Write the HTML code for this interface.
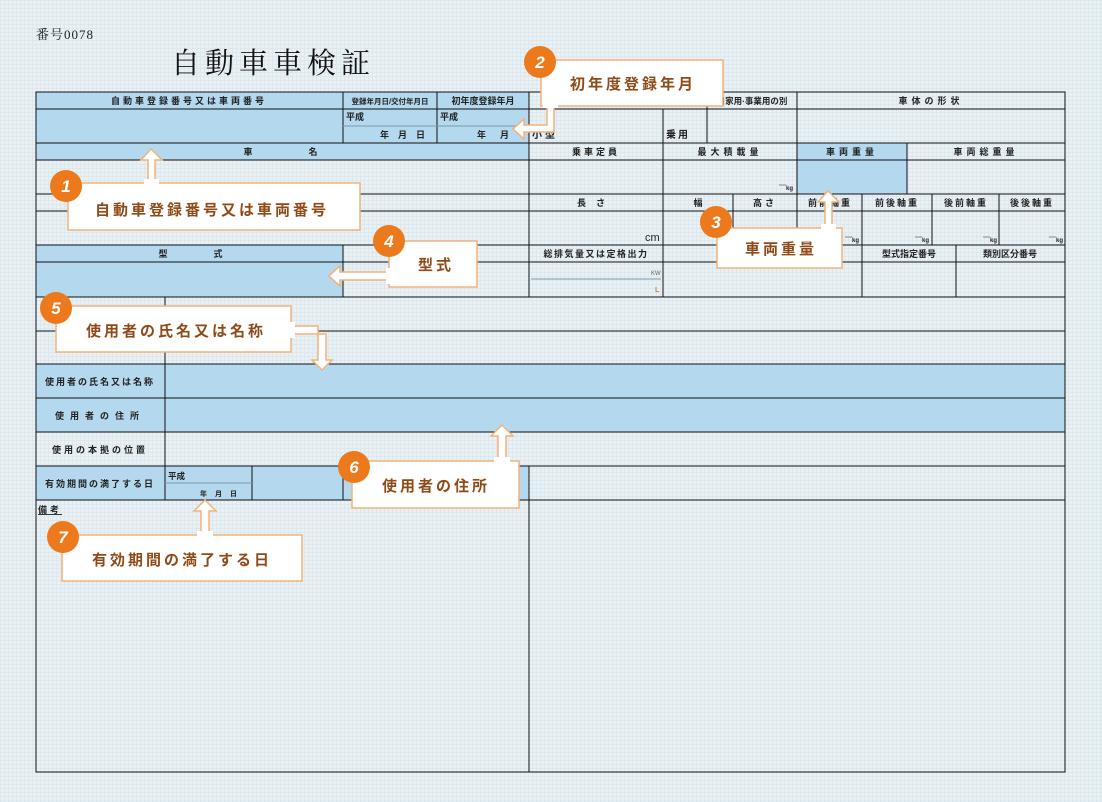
<!DOCTYPE html>
<html><head><meta charset="utf-8">
<style>
html,body{margin:0;padding:0;}
body{width:1102px;height:802px;overflow:hidden;background:#e8f0f4;}
svg{display:block;}
.t{font-family:"Liberation Sans","Noto Sans CJK JP",sans-serif;font-size:9px;font-weight:bold;fill:#222;}
.c{font-family:"Liberation Sans","Noto Sans CJK JP",sans-serif;font-size:15px;font-weight:bold;fill:#8f4a17;letter-spacing:3px;}
.n{font-family:"Liberation Sans","DejaVu Sans",sans-serif;font-size:17px;font-weight:bold;font-style:italic;fill:#fff;}
</style></head><body>
<svg width="1102" height="802" xmlns="http://www.w3.org/2000/svg">
<defs>
<pattern id="g" width="4" height="4" patternUnits="userSpaceOnUse"><rect width="4" height="4" fill="#e9f1f5"/><rect width="1" height="4" fill="#dde8ee"/><rect width="4" height="1" fill="#dde8ee"/></pattern>
</defs>
<rect width="1102" height="802" fill="url(#g)"/>
<text x="36" y="39" style="font-family:'Liberation Serif','Noto Serif CJK SC',serif;font-size:13px;fill:#222;letter-spacing:1px">番号0078</text>
<text x="171" y="73" style="font-family:'Liberation Serif','Noto Serif CJK SC',serif;font-size:29px;fill:#111;letter-spacing:5px">自動車車検証</text>

<g fill="#b4d8ed">
<rect x="36" y="92" width="493" height="68"/>
<rect x="797" y="143" width="110" height="51"/>
<rect x="36" y="245" width="307" height="52"/>
<rect x="36" y="364" width="1029" height="68"/>
<rect x="36" y="466" width="493" height="34"/>
</g>
<g stroke="#111" stroke-width="1" fill="none" shape-rendering="crispEdges">
<rect x="36" y="92" width="1029" height="680"/>
<path d="M36 109H1065M36 143H1065M36 160H1065M36 194H1065M36 211H1065M36 245H1065M36 262H1065M36 297H1065M36 331H1065M36 364H1065M36 398H1065M36 432H1065M36 466H1065M36 500H1065"/>
<path d="M343 92V143M437 92V143M529 92V297M529 466V772M707 92V143M663 109V143M797 92V143"/>
<path d="M663 143V245M797 143V245M907 143V194M733 194V245M862 194V245M932 194V245M999 194V245"/>
<path d="M343 245V297M663 245V297M862 245V297M956 245V297"/>
<path d="M165 297V500M252 466V500M343 466V500"/>
</g>
<g stroke="#7e99a8" stroke-width="1" shape-rendering="crispEdges">
<path d="M343 126H529M531 279H661M165 483H252"/>
</g>
<g class="t" text-anchor="middle">
<text x="189" y="104" letter-spacing="3">自動車登録番号又は車両番号</text>
<text x="390" y="104" style="font-size:7.5px">登録年月日/交付年月日</text>
<text x="483" y="104">初年度登録年月</text>
<text x="752" y="104" style="font-size:8.5px">自家用·事業用の別</text>
<text x="931" y="104" letter-spacing="4">車体の形状</text>
<text x="248" y="155">車</text><text x="313" y="155">名</text>
<text x="596" y="155" letter-spacing="3">乗車定員</text>
<text x="730" y="155" letter-spacing="4">最大積載量</text>
<text x="852" y="155" letter-spacing="4">車両重量</text>
<text x="986" y="155" letter-spacing="4">車両総重量</text>
<text x="596" y="206" letter-spacing="10">長さ</text>
<text x="698" y="206">幅</text>
<text x="765" y="206" letter-spacing="3">高さ</text>
<text x="830" y="206" letter-spacing="2">前前軸重</text>
<text x="897" y="206" letter-spacing="2">前後軸重</text>
<text x="966" y="206" letter-spacing="2">後前軸重</text>
<text x="1032" y="206" letter-spacing="2">後後軸重</text>
<text x="163" y="257">型</text><text x="218" y="257">式</text>
<text x="596" y="257" letter-spacing="1.5">総排気量又は定格出力</text>
<text x="909" y="257">型式指定番号</text>
<text x="1010" y="257">類別区分番号</text>
<text x="100" y="385" letter-spacing="2">使用者の氏名又は名称</text>
<text x="100" y="419" letter-spacing="6">使用者の住所</text>
<text x="100" y="453" letter-spacing="3">使用の本拠の位置</text>
<text x="100" y="487" letter-spacing="2">有効期間の満了する日</text>
</g>
<g class="t">
<text x="346" y="120">平成</text><text x="380" y="138" letter-spacing="9">年月日</text>
<text x="440" y="120">平成</text><text x="477" y="138" letter-spacing="14">年月</text>
<text x="532" y="138" style="font-size:10px" letter-spacing="3">小型</text>
<text x="666" y="138" style="font-size:10px" letter-spacing="2">乗用</text>
<text x="645" y="241" style="font-size:11px;font-weight:normal">cm</text>
<text x="168" y="479" style="font-size:8.5px">平成</text>
<text x="200" y="496" style="font-size:7px" letter-spacing="8">年月日</text>
<text x="38" y="513" text-decoration="underline" letter-spacing="3">備考</text>
<text x="651" y="275" style="font-size:6px;font-weight:normal;fill:#666">KW</text>
<text x="655" y="292" style="font-size:7px;fill:#c0864d">L</text>
<g style="font-size:6px">
<text x="786" y="190">kg</text><text x="852" y="242">kg</text><text x="922" y="242">kg</text><text x="990" y="242">kg</text><text x="1056" y="242">kg</text>
</g>
</g>
<g stroke="#888" shape-rendering="crispEdges"><path d="M779 185H786M845 237H852M915 237H922M983 237H990M1049 237H1056"/></g>

<g fill="#fff" stroke="#f3b27a" stroke-width="1.5">
<polygon points="148,183 148,160 141,160 151,149 162,160 155,160 155,183"/>
<polygon points="547,106 547,125 524,125 524,119 513,129 524,139 524,132 554,132 554,106"/>
<polygon points="825,228 825,202 818,202 828,191 839,202 832,202 832,228"/>
<polygon points="389,272 340,272 340,266 329,276 340,286 340,280 389,280"/>
<polygon points="291,326 318,326 318,360 312,360 322,370 332,360 326,360 326,334 291,334"/>
<polygon points="498,461 498,436 491,436 502,425 513,436 506,436 506,461"/>
<polygon points="201,535 201,511 194,511 205,500 216,511 209,511 209,535"/>
<rect x="68" y="183" width="292" height="47"/>
<rect x="541" y="60" width="182" height="46"/>
<rect x="717" y="228" width="125" height="40"/>
<rect x="389" y="241" width="88" height="46"/>
<rect x="56" y="306" width="235" height="46"/>
<rect x="352" y="461" width="167" height="47"/>
<rect x="62" y="535" width="240" height="46"/>
</g>
<g fill="#fff" stroke="none">
<rect x="144" y="179" width="15" height="6"/>
<rect x="543" y="104" width="15" height="4"/>
<rect x="821" y="224" width="15" height="6"/>
<rect x="386" y="268" width="6" height="16"/>
<rect x="289" y="322" width="6" height="16"/>
<rect x="494" y="457" width="16" height="6"/>
<rect x="197" y="531" width="16" height="6"/>
</g>
<g class="c">
<text x="95" y="215">自動車登録番号又は車両番号</text>
<text x="570" y="89">初年度登録年月</text>
<text x="745" y="254">車両重量</text>
<text x="418" y="270">型式</text>
<text x="86" y="336">使用者の氏名又は名称</text>
<text x="382" y="491">使用者の住所</text>
<text x="92" y="565">有効期間の満了する日</text>
</g>
<g fill="#ec7a1c">
<circle cx="66" cy="186" r="16"/>
<circle cx="540" cy="62" r="16"/>
<circle cx="716" cy="222" r="16"/>
<circle cx="389" cy="241" r="16"/>
<circle cx="56" cy="308" r="16"/>
<circle cx="354" cy="467" r="16"/>
<circle cx="63" cy="537" r="16"/>
</g>
<g class="n" text-anchor="middle">
<text x="66" y="192">1</text>
<text x="540" y="68">2</text>
<text x="716" y="228">3</text>
<text x="389" y="247">4</text>
<text x="56" y="314">5</text>
<text x="354" y="473">6</text>
<text x="63" y="543">7</text>
</g>
</svg>
</body></html>
